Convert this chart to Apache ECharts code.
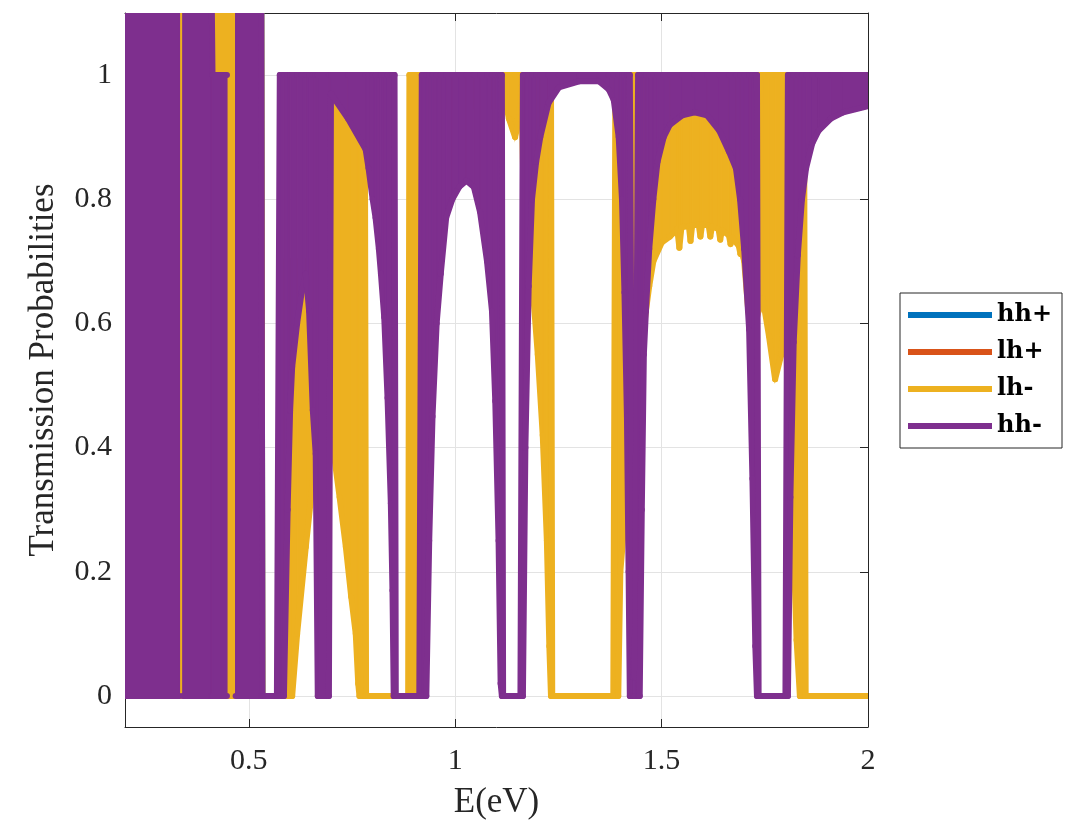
<!DOCTYPE html>
<html>
<head>
<meta charset="utf-8">
<script src="https://cdn.jsdelivr.net/npm/echarts@6/dist/echarts.min.js"></script>
<style>
  html, body { margin: 0; padding: 0; background: #fff; }
  #chart { width: 1075px; height: 825px; }
</style>
</head>
<body>
<div id="chart"></div>
<script>
// tick positions
const xTicks = [0.5, 1, 1.5, 2];
const yTicks = [0, 0.2, 0.4, 0.6, 0.8, 1];

// each curve oscillates too fast to resolve, so it is kept as its envelope:
// [E, lower, upper]; null breaks the trace
const hhPlus = [
  [0.2, 0, 1.2], [0.530, 0, 1.2], [0.533, 0, 0]
];

const lhPlus = [
  [0.2, 0, 1.2], [0.300, 0, 1.2], [0.303, 0, 0]
];

const lhMinus = [
  [0.2, 0, 1.2], [0.332, 0, 1.2], [0.333, 0, 0.86], [0.339, 0, 0.86], [0.340, 0, 1.2],
  [0.530, 0, 1.2], [0.533, 0, 0], [0.583, 0, 0], [0.588, 0, 0.7], [0.605, 0, 0.7],
  [0.617, 0.1, 0.7], [0.638, 0.24, 0.7], [0.662, 0.39, 0.7], [0.667, 0.40, 1.0],
  [0.694, 0.42, 1.0], [0.698, 0.42, 1.0], [0.706, 0.39, 1.0], [0.720, 0.32, 1.0],
  [0.735, 0.24, 1.0], [0.748, 0.16, 1.0], [0.759, 0.10, 1.0], [0.765, 0.02, 1.0],
  [0.768, 0, 1.0], [0.781, 0, 1.0], [0.784, 0, 0], [0.886, 0, 0], [0.889, 0, 1.0],
  [0.914, 0, 1.0], [0.919, 0.95, 1.0], [1.110, 0.95, 1.0], [1.118, 0.97, 1.0],
  [1.130, 0.93, 1.0], [1.145, 0.90, 1.0], [1.155, 0.93, 1.0], [1.160, 0.98, 1.0],
  [1.166, 0.80, 1.0], [1.172, 0.75, 1.0], [1.185, 0.68, 1.0], [1.200, 0.55, 1.0],
  [1.212, 0.42, 1.0], [1.222, 0.25, 1.0], [1.228, 0.08, 1.0], [1.232, 0, 1.0],
  [1.235, 0, 0], [1.383, 0, 0], [1.388, 0, 1.0], [1.395, 0, 1.0], [1.400, 0.2, 1.0],
  [1.410, 0.28, 1.0], [1.418, 0.35, 1.0], [1.425, 0.5, 1.0], [1.430, 0.55, 1.0],
  [1.440, 0.55, 1.0], [1.450, 0.58, 1.0], [1.458, 0.60, 1.0], [1.470, 0.66, 1.0],
  [1.480, 0.70, 1.0], [1.500, 0.73, 1.0], [1.520, 0.74, 1.0], [1.538, 0.752, 1.0],
  [1.543, 0.722, 1.0], [1.548, 0.755, 1.0], [1.566, 0.757, 1.0], [1.570, 0.733, 1.0],
  [1.574, 0.758, 1.0], [1.590, 0.759, 1.0], [1.594, 0.740, 1.0], [1.598, 0.759, 1.0],
  [1.614, 0.758, 1.0], [1.618, 0.740, 1.0], [1.622, 0.756, 1.0], [1.638, 0.752, 1.0],
  [1.642, 0.735, 1.0], [1.646, 0.750, 1.0], [1.663, 0.742, 1.0], [1.667, 0.728, 1.0],
  [1.671, 0.738, 1.0], [1.687, 0.725, 1.0], [1.691, 0.712, 1.0], [1.695, 0.715, 1.0],
  [1.700, 0.70, 1.0], [1.710, 0.62, 1.0], [1.720, 0.58, 1.0], [1.735, 0.62, 1.0],
  [1.745, 0.64, 1.0], [1.760, 0.58, 1.0], [1.775, 0.51, 1.0], [1.790, 0.55, 1.0],
  [1.800, 0.65, 1.0], [1.806, 0.45, 1.0], [1.812, 0.32, 1.0], [1.818, 0.28, 1.0],
  [1.827, 0.09, 1.0], [1.835, 0, 1.0], [1.845, 0, 1.0], [1.849, 0, 0], [2.0, 0, 0]
];

const hhMinus = [
  [0.2, 0, 1.2], [0.332, 0, 1.2], null,
  [0.340, 0, 1.2], [0.409, 0, 1.2], [0.412, 0, 1.0], [0.447, 0, 1.0], null,
  [0.468, 0, 1.2], [0.530, 0, 1.2], [0.533, 0, 0], [0.568, 0, 0], [0.575, 0, 1.0],
  [0.585, 0, 1.0], [0.594, 0.30, 1.0], [0.600, 0.46, 1.0], [0.605, 0.53, 1.0],
  [0.617, 0.60, 1.0], [0.628, 0.65, 1.0], [0.638, 0.68, 1.0], [0.646, 0.62, 1.0],
  [0.655, 0.46, 1.0], [0.662, 0.39, 1.0], [0.667, 0, 1.0], [0.694, 0, 1.0],
  [0.699, 0.97, 1.0], [0.740, 0.93, 1.0], [0.783, 0.88, 1.0], [0.790, 0.85, 1.0],
  [0.800, 0.80, 1.0], [0.807, 0.77, 1.0], [0.815, 0.72, 1.0], [0.820, 0.68, 1.0],
  [0.828, 0.61, 1.0], [0.836, 0.48, 1.0], [0.844, 0.31, 1.0], [0.848, 0.17, 1.0],
  [0.851, 0, 1.0], [0.853, 0, 1.0], [0.856, 0, 0], [0.913, 0, 0], [0.919, 0, 1.0],
  [0.930, 0, 1.0], [0.937, 0.25, 1.0], [0.945, 0.45, 1.0], [0.955, 0.60, 1.0],
  [0.965, 0.68, 1.0], [0.978, 0.77, 1.0], [0.993, 0.80, 1.0], [1.010, 0.82, 1.0],
  [1.027, 0.83, 1.0], [1.045, 0.82, 1.0], [1.060, 0.78, 1.0], [1.077, 0.70, 1.0],
  [1.089, 0.62, 1.0], [1.097, 0.475, 1.0], [1.105, 0.25, 1.0], [1.110, 0.02, 1.0],
  [1.113, 0, 1.0], [1.116, 0, 0], [1.158, 0, 0], [1.164, 0, 1.0], [1.170, 0.40, 1.0],
  [1.178, 0.66, 1.0], [1.186, 0.80, 1.0], [1.196, 0.86, 1.0], [1.206, 0.90, 1.0],
  [1.226, 0.955, 1.0], [1.251, 0.98, 1.0], [1.300, 0.99, 1.0], [1.348, 0.99, 1.0],
  [1.372, 0.977, 1.0], [1.384, 0.96, 1.0], [1.396, 0.90, 1.0], [1.404, 0.80, 1.0],
  [1.410, 0.65, 1.0], [1.416, 0.45, 1.0], [1.420, 0.2, 1.0], [1.423, 0, 1.0],
  [1.431, 0, 0.03], [1.435, 0, 0.03], [1.443, 0, 1.0], [1.447, 0, 1.0],
  [1.452, 0.30, 1.0], [1.457, 0.55, 1.0], [1.462, 0.62, 1.0], [1.470, 0.72, 1.0],
  [1.480, 0.80, 1.0], [1.490, 0.86, 1.0], [1.505, 0.90, 1.0], [1.520, 0.92, 1.0],
  [1.550, 0.935, 1.0], [1.580, 0.94, 1.0], [1.610, 0.935, 1.0], [1.640, 0.91, 1.0],
  [1.663, 0.877, 1.0], [1.680, 0.85, 1.0], [1.690, 0.80, 1.0], [1.700, 0.72, 1.0],
  [1.712, 0.59, 1.0], [1.720, 0.35, 1.0], [1.727, 0.08, 1.0], [1.731, 0, 1.0],
  [1.735, 0, 0], [1.800, 0, 0], [1.806, 0, 1.0], [1.812, 0.32, 1.0], [1.820, 0.57, 1.0],
  [1.830, 0.71, 1.0], [1.840, 0.80, 1.0], [1.850, 0.85, 1.0], [1.865, 0.89, 1.0],
  [1.880, 0.91, 1.0], [1.910, 0.93, 1.0], [1.940, 0.94, 1.0], [2.0, 0.95, 1.0]
];

const colors = ['#0072BD', '#D95319', '#EDB120', '#7E2F8E'];
const axisColor = '#262626';
const serif = '"Liberation Serif", "Times New Roman", serif';
const lineW = 6;

// consecutive envelope points -> one row per strip [E0, lo0, hi0, E1, lo1, hi1]
const toStrips = (pts) => {
  let rows = [];
  for (let i = 1; i < pts.length; i++) {
    if (!pts[i - 1] || !pts[i]) continue;
    rows.push(pts[i - 1].concat(pts[i]));
  }
  return rows;
};

const stripRenderer = (color) => {
  return function (params, api) {
    let hiA = api.coord([api.value(0), api.value(2)]);
    let hiB = api.coord([api.value(3), api.value(5)]);
    let loB = api.coord([api.value(3), api.value(4)]);
    let loA = api.coord([api.value(0), api.value(1)]);
    let edge = { stroke: color, lineWidth: lineW, lineCap: 'round', fill: null };
    return {
      type: 'group',
      children: [
        // thin stroke hides the seams between neighbouring strips
        { type: 'polygon', shape: { points: [hiA, hiB, loB, loA] }, style: { fill: color, stroke: color, lineWidth: 1.2 } },
        { type: 'line', shape: { x1: hiA[0], y1: hiA[1], x2: hiB[0], y2: hiB[1] }, style: edge },
        { type: 'line', shape: { x1: loA[0], y1: loA[1], x2: loB[0], y2: loB[1] }, style: edge }
      ]
    };
  };
};

const makeSeries = (name, pts, color) => ({
  name: name,
  type: 'custom',
  clip: true,
  silent: true,
  itemStyle: { color: color },
  renderItem: stripRenderer(color),
  encode: { x: [0, 3], y: [1, 2, 4, 5] },
  data: toStrips(pts)
});

let chart = echarts.init(document.getElementById('chart'), null, { renderer: 'canvas' });

let tickStyle = { color: axisColor, width: 1 };

chart.setOption({
  backgroundColor: '#fff',
  animation: false,
  grid: { left: 125, right: 207, top: 13, bottom: 98 },
  legend: {
    orient: 'vertical',
    left: 900,
    top: 293,
    padding: [9, 10, 9, 8],
    itemGap: 11,
    itemWidth: 84,
    itemHeight: 6,
    icon: 'rect',
    borderColor: axisColor,
    borderWidth: 1,
    backgroundColor: '#fff',
    selectedMode: false,
    textStyle: {
      fontFamily: '"DejaVu Serif", serif',
      fontWeight: 'bold',
      fontSize: 24,
      lineHeight: 26,
      color: '#000'
    },
    data: ['hh+', 'lh+', 'lh-', 'hh-']
  },
  xAxis: [
    {
      type: 'value',
      min: 0.2,
      max: 2,
      position: 'bottom',
      name: 'E(eV)',
      nameLocation: 'middle',
      nameGap: 58,
      nameTextStyle: { fontFamily: serif, fontSize: 35, color: axisColor },
      axisLine: { show: true, onZero: false, lineStyle: tickStyle },
      axisTick: { show: true, inside: true, length: 8, customValues: xTicks, lineStyle: tickStyle },
      axisLabel: { customValues: xTicks, fontFamily: serif, fontSize: 30, color: axisColor, margin: 19 },
      splitLine: { show: true, lineStyle: { color: '#e3e3e3', width: 1 } }
    },
    {
      type: 'value',
      min: 0.2,
      max: 2,
      position: 'top',
      axisLine: { show: true, onZero: false, lineStyle: tickStyle },
      axisTick: { show: true, inside: true, length: 8, customValues: xTicks, lineStyle: tickStyle },
      axisLabel: { show: false },
      splitLine: { show: false }
    }
  ],
  yAxis: [
    {
      type: 'value',
      min: -0.05,
      max: 1.1,
      position: 'left',
      name: 'Transmission Probabilities',
      nameLocation: 'middle',
      nameGap: 64,
      nameTextStyle: { fontFamily: serif, fontSize: 35, color: axisColor },
      axisLine: { show: true, onZero: false, lineStyle: tickStyle },
      axisTick: { show: true, inside: true, length: 8, customValues: yTicks, lineStyle: tickStyle },
      axisLabel: { customValues: yTicks, fontFamily: serif, fontSize: 30, color: axisColor, margin: 13 },
      splitLine: { show: true, lineStyle: { color: '#e3e3e3', width: 1 } }
    },
    {
      type: 'value',
      min: -0.05,
      max: 1.1,
      position: 'right',
      axisLine: { show: true, onZero: false, lineStyle: tickStyle },
      axisTick: { show: true, inside: true, length: 8, customValues: yTicks, lineStyle: tickStyle },
      axisLabel: { show: false },
      splitLine: { show: false }
    }
  ],
  series: [
    makeSeries('hh+', hhPlus, colors[0]),
    makeSeries('lh+', lhPlus, colors[1]),
    makeSeries('lh-', lhMinus, colors[2]),
    makeSeries('hh-', hhMinus, colors[3])
  ]
});
</script>
</body>
</html>
